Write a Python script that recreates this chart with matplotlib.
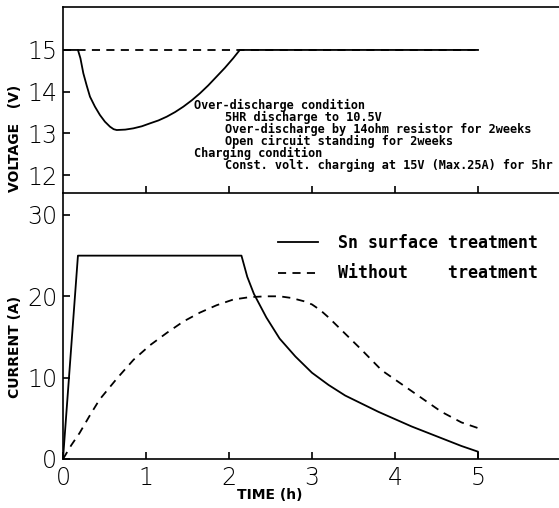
import numpy as np
import matplotlib.pyplot as plt

# voltage during charging (upper panel)
t_volt = [0, 0.18, 0.21, 0.245, 0.285, 0.325, 0.385, 0.445, 0.505, 0.566,
          0.61, 0.647, 0.75, 0.847, 0.95, 1.048, 1.15, 1.25, 1.35, 1.45,
          1.55, 1.65, 1.75, 1.85, 1.95, 2.05, 2.13, 5.0]
v_sn = [15, 15, 14.8, 14.44, 14.15, 13.88, 13.64, 13.44, 13.28, 13.16,
        13.1, 13.08, 13.09, 13.12, 13.17, 13.24, 13.31, 13.4, 13.51, 13.64,
        13.79, 13.96, 14.15, 14.36, 14.57, 14.8, 15, 15]
t_volt_wo = [0, 5.0]
v_wo = [15, 15]

# charging current (lower panel)
t_sn = [0, 0.18, 2.15, 2.22, 2.3, 2.45, 2.61, 2.8, 3.0, 3.2, 3.4, 3.6, 3.8,
        4.0, 4.2, 4.4, 4.6, 4.8, 5.0, 5.0]
i_sn = [0, 25, 25, 22.4, 20.3, 17.4, 14.8, 12.6, 10.6, 9.1, 7.8, 6.8, 5.8,
        4.9, 4.0, 3.2, 2.4, 1.6, 0.9, 0]
t_wo = [0, 0.1, 0.2, 0.32, 0.44, 0.65, 0.85, 1.05, 1.25, 1.45, 1.65, 1.85,
        2.05, 2.25, 2.45, 2.61, 2.75, 2.9, 3.0, 3.1, 3.2, 3.36, 3.6, 3.84,
        4.08, 4.32, 4.56, 4.8, 5.0]
i_wo = [0, 1.7, 3.2, 5.3, 7.3, 9.9, 12.2, 14.0, 15.5, 16.9, 18.0, 18.9,
        19.6, 19.9, 20.0, 20.0, 19.8, 19.4, 19.0, 18.3, 17.4, 15.8, 13.4,
        10.9, 9.2, 7.5, 5.8, 4.5, 3.8]

series_labels = ['Sn surface treatment', 'Without    treatment']
volt_ticks = [12, 13, 14, 15]
curr_ticks = [0, 10, 20, 30]
time_ticks = [0, 1, 2, 3, 4, 5]

notes = [
    (False, 'Over-discharge condition'),
    (True, '5HR discharge to 10.5V'),
    (True, 'Over-discharge by 14ohm resistor for 2weeks'),
    (True, 'Open circuit standing for 2weeks'),
    (False, 'Charging condition'),
    (True, 'Const. volt. charging at 15V (Max.25A) for 5hr'),
]

W, H = 559, 508
fig = plt.figure(figsize=(W / 100, H / 100), dpi=100)
ax1 = fig.add_axes([63 / W, 1 - 193 / H, 496 / W, 186 / H])
ax2 = fig.add_axes([63 / W, 1 - 459 / H, 496 / W, 266 / H])

lw = 1.3
dash = (4.5, 3.5)

ax1.plot(t_volt_wo, v_wo, color='black', lw=lw, linestyle=(0, dash))
ax1.plot(t_volt, v_sn, color='black', lw=lw)
ax1.set_xlim(0, 496 / 83)
ax1.set_ylim(11.57, 16.03)
ax1.set_yticks(volt_ticks)
ax1.set_xticks(time_ticks[1:])
ax1.tick_params(axis='x', labelbottom=False)

# test conditions note
y0 = 13.66
for k, (indent, line) in enumerate(notes):
    ax1.text(1.95 if indent else 1.58, y0 - k * 0.288, line,
             family='DejaVu Sans Mono', weight='bold', fontsize=8.6,
             va='center', ha='left')

ax2.plot(t_sn, i_sn, color='black', lw=lw, label=series_labels[0])
ax2.plot(t_wo, i_wo, color='black', lw=lw, linestyle=(0, dash),
         label=series_labels[1])
ax2.set_xlim(0, 496 / 83)
ax2.set_ylim(0, 32.7)
ax2.set_yticks(curr_ticks)
ax2.set_xticks(time_ticks)

ax2.legend(loc='upper left', bbox_to_anchor=(0.4335, 0.846), frameon=False,
           prop=dict(family='DejaVu Sans Mono', weight='bold', size=12),
           handlelength=2.4, handletextpad=1.2, labelspacing=0.75,
           borderpad=0, borderaxespad=0)

for ax in (ax1, ax2):
    ax.spines['right'].set_visible(False)
    for s in ('left', 'bottom', 'top'):
        ax.spines[s].set_linewidth(1.2)
    ax.tick_params(direction='in', length=5, width=1.2, labelsize=17, pad=4)
    ax.patch.set_alpha(0)
    plt.setp(ax.get_xticklabels() + ax.get_yticklabels(),
             family='DejaVu Sans', fontweight=200)
ax2.spines['top'].set_visible(False)
ax2.tick_params(axis='x', pad=5)

fig.text(15 / W, 1 - 138 / H, 'VOLTAGE   (V)', rotation=90, ha='center',
         va='center', fontsize=10, weight='bold')
fig.text(15 / W, 1 - 347 / H, 'CURRENT (A)', rotation=90, ha='center',
         va='center', fontsize=10, weight='bold')
fig.text(270 / W, 1 - 495 / H, 'TIME (h)', ha='center', va='center',
         fontsize=10, weight='bold')

fig.savefig('out.png', dpi=100)
